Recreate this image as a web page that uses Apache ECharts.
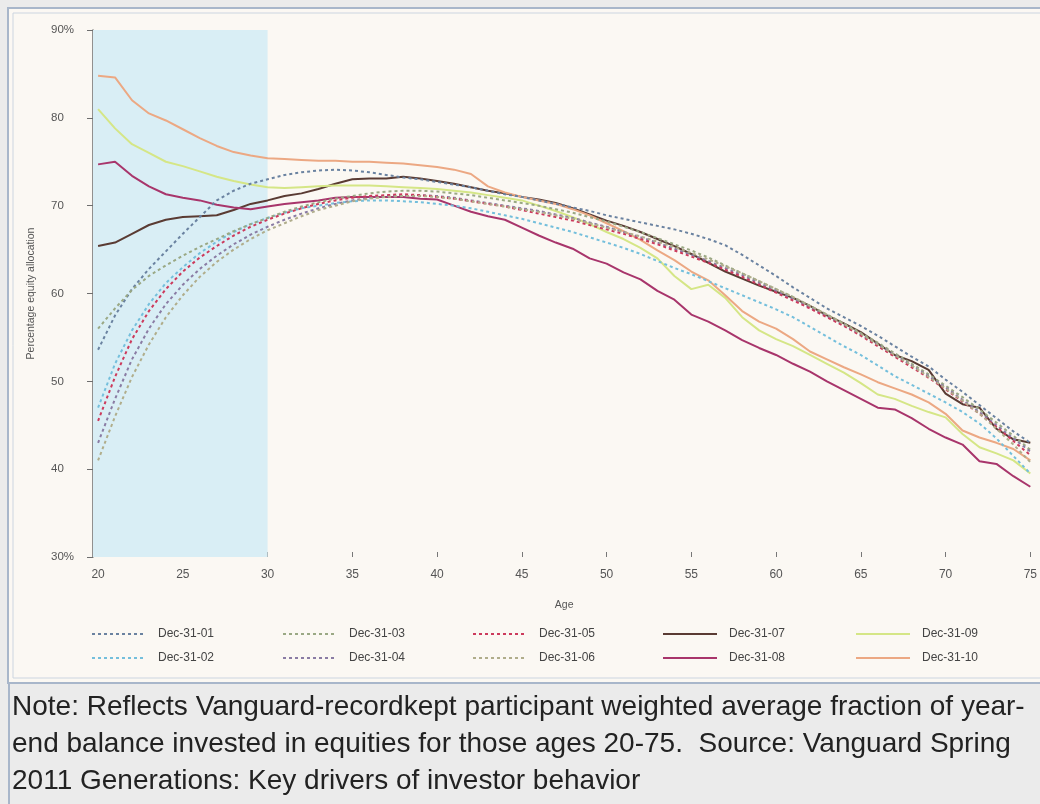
<!DOCTYPE html>
<html>
<head>
<meta charset="utf-8">
<script src="https://cdn.jsdelivr.net/npm/echarts@6/dist/echarts.min.js"></script>
<style>
html,body{margin:0;padding:0;background:#ebebeb;}
#chart{width:1040px;height:804px;}
</style>
</head>
<body>
<div id="chart"></div>
<script>
// ---- data ----
const ages = [20,21,22,23,24,25,26,27,28,29,30,31,32,33,34,35,36,37,38,39,40,41,42,43,44,45,46,47,48,49,50,51,52,53,54,55,56,57,58,59,60,61,62,63,64,65,66,67,68,69,70,71,72,73,74,75];
const seriesNames = ['Dec-31-01','Dec-31-02','Dec-31-03','Dec-31-04','Dec-31-05','Dec-31-06','Dec-31-07','Dec-31-08','Dec-31-09','Dec-31-10'];
const yTickLabels = {30:'30%',40:'40',50:'50',60:'60',70:'70',80:'80',90:'90%'};
const xTickLabels = [20,25,30,35,40,45,50,55,60,65,70,75];
const shadedAges = [19.7, 30];
const noteLines = [
  'Note: Reflects Vanguard-recordkept participant weighted average fraction of year-',
  'end balance invested in equities for those ages 20-75.  Source: Vanguard Spring',
  '2011 Generations: Key drivers of investor behavior'
];

const dec01 = [53.6,57.5,60.5,62.8,64.8,66.8,68.7,70.6,71.7,72.5,73.0,73.5,73.8,74.0,74.1,74.0,73.8,73.5,73.2,73.0,72.7,72.4,72.1,71.7,71.3,71.0,70.6,70.2,69.8,69.4,68.9,68.5,68.1,67.7,67.3,66.8,66.2,65.5,64.4,63.2,62.0,60.7,59.5,58.3,57.3,56.3,55.2,54.0,52.8,51.7,50.2,48.8,47.3,45.8,44.3,43.0];
const dec02 = [47.0,52.0,55.8,58.8,61.2,63.0,64.6,65.9,67.0,67.9,68.6,69.2,69.7,70.0,70.3,70.5,70.6,70.6,70.5,70.4,70.2,70.0,69.7,69.3,68.9,68.5,68.0,67.5,67.0,66.4,65.8,65.2,64.5,63.7,62.9,62.2,61.4,60.6,59.8,59.0,58.2,57.3,56.2,55.1,54.0,53.0,51.8,50.6,49.6,48.6,47.6,46.5,45.2,43.5,41.5,39.5];
const dec03 = [56.0,58.3,60.4,62.0,63.2,64.3,65.3,66.2,67.1,67.9,68.6,69.3,69.9,70.4,70.8,71.1,71.4,71.6,71.7,71.7,71.6,71.4,71.2,70.9,70.6,70.3,70.0,69.6,69.2,68.7,68.2,67.6,67.0,66.3,65.6,64.9,64.1,63.2,62.3,61.4,60.5,59.6,58.6,57.6,56.6,55.5,54.4,53.2,52.0,50.8,49.5,48.2,46.8,45.3,43.8,42.2];
const dec04 = [43.0,48.0,52.5,56.0,58.8,61.0,62.8,64.3,65.6,66.7,67.6,68.4,69.1,69.7,70.2,70.6,70.9,71.1,71.2,71.2,71.1,70.9,70.6,70.3,70.0,69.7,69.4,69.0,68.6,68.1,67.6,67.0,66.4,65.8,65.1,64.4,63.7,62.9,62.1,61.2,60.3,59.4,58.4,57.4,56.4,55.3,54.2,53.0,51.8,50.6,49.3,47.9,46.5,45.0,43.5,42.0];
const dec05 = [45.5,50.5,54.8,58.0,60.5,62.5,64.1,65.4,66.6,67.6,68.4,69.1,69.7,70.2,70.6,70.9,71.1,71.2,71.3,71.2,71.0,70.8,70.5,70.2,69.9,69.5,69.1,68.7,68.3,67.8,67.3,66.8,66.2,65.6,64.9,64.2,63.5,62.7,61.9,61.0,60.1,59.2,58.3,57.3,56.3,55.2,54.0,52.8,51.6,50.4,49.1,47.7,46.3,44.8,43.2,41.6];
const dec06 = [41.0,46.0,50.5,54.2,57.3,59.8,61.9,63.6,65.0,66.2,67.2,68.0,68.8,69.5,70.0,70.5,70.8,71.0,71.1,71.1,71.0,70.8,70.5,70.2,69.9,69.6,69.3,68.9,68.5,68.0,67.5,67.0,66.5,65.9,65.3,64.6,63.9,63.1,62.3,61.4,60.5,59.6,58.6,57.6,56.5,55.4,54.2,53.0,51.8,50.5,49.2,47.8,46.3,44.6,42.8,40.8];
const dec07 = [65.4,65.8,66.8,67.8,68.4,68.7,68.8,68.9,69.5,70.2,70.6,71.1,71.4,71.9,72.5,73.0,73.1,73.1,73.3,73.1,72.8,72.5,72.1,71.7,71.4,71.0,70.7,70.3,69.7,69.0,68.3,67.7,67.0,66.2,65.4,64.5,63.5,62.5,61.7,60.9,60.2,59.5,58.6,57.5,56.6,55.6,54.3,53.0,52.3,51.3,48.6,47.4,47.0,44.6,43.4,43.0];
const dec08 = [74.7,75.0,73.4,72.2,71.3,70.9,70.6,70.1,69.8,69.6,69.9,70.2,70.4,70.6,70.9,71.0,71.0,71.0,71.0,70.8,70.7,70.0,69.3,68.8,68.4,67.5,66.6,65.8,65.1,64.0,63.4,62.4,61.6,60.3,59.3,57.6,56.8,55.8,54.7,53.8,53.0,52.0,51.1,50.0,49.0,48.0,47.0,46.8,45.8,44.6,43.6,42.8,40.9,40.6,39.2,38.0];
const dec09 = [81.0,78.8,77.0,76.0,75.0,74.5,73.9,73.3,72.8,72.4,72.1,72.0,72.1,72.2,72.3,72.3,72.3,72.2,72.1,72.0,71.9,71.7,71.5,71.2,70.9,70.6,70.0,69.4,68.7,67.9,67.0,66.2,65.2,64.0,62.0,60.5,61.0,59.5,57.3,55.8,54.8,54.0,53.0,52.0,51.0,49.8,48.5,48.0,47.2,46.5,45.9,44.0,42.5,41.8,41.0,39.5];
const dec10 = [84.8,84.6,82.0,80.5,79.7,78.7,77.7,76.8,76.1,75.7,75.4,75.3,75.2,75.1,75.1,75.0,75.0,74.9,74.8,74.6,74.4,74.1,73.6,72.2,71.5,71.0,70.6,70.2,69.6,68.9,68.0,67.1,66.1,64.9,63.8,62.5,61.5,59.8,58.0,56.8,56.0,54.8,53.4,52.5,51.6,50.8,49.9,49.2,48.5,47.6,46.3,44.4,43.6,43.0,42.3,41.0];

const seriesValues = [dec01,dec02,dec03,dec04,dec05,dec06,dec07,dec08,dec09,dec10];

// ---- styles ----
const colors = ['#6a82a0','#74bfdc','#9aa884','#8a7ca4','#cc3a5c','#b0ad8b','#5a3b33','#a8356b','#d5e686','#eca883'];
const dashed = [true,true,true,true,true,true,false,false,false,false];
const FONT = 'Liberation Sans, Arial, sans-serif';

const series = seriesNames.map((name, i) => ({
  name: name,
  type: 'line',
  data: ages.map((a, j) => [a, seriesValues[i][j]]),
  symbol: 'none',
  smooth: false,
  z: 3 + (dashed[i] ? 1 : 0),
  lineStyle: {
    color: colors[i],
    width: dashed[i] ? 2 : 2,
    type: dashed[i] ? [3, 3] : 'solid'
  },
  itemStyle: { color: colors[i] }
}));

series[0].markArea = {
  silent: true,
  itemStyle: { color: '#d9eef5' },
  data: [[{ xAxis: shadedAges[0] }, { xAxis: shadedAges[1] }]]
};

const legendCols = [[0,1],[2,3],[4,5],[6,7],[8,9]];
const legendX = [86, 277, 467, 657, 850];
const legends = legendCols.map((pair, c) => ({
  orient: 'vertical',
  left: legendX[c],
  top: 623,
  itemGap: 12,
  itemWidth: 54,
  itemHeight: 12,
  itemStyle: { opacity: 0, borderWidth: 0 },
  data: pair.map(k => seriesNames[k]),
  textStyle: { fontFamily: FONT, fontSize: 12, color: '#444', padding: [0,0,0,7] },
  selectedMode: false
}));

const chart = echarts.init(document.getElementById('chart'), null, { renderer: 'canvas' });
chart.setOption({
  animation: false,
  backgroundColor: '#ebebeb',
  graphic: [
    { type: 'rect', z: -10, shape: { x: 8, y: 8, width: 1040, height: 675 },
      style: { fill: '#fbf8f3', stroke: '#a8b6ca', lineWidth: 2 } },
    { type: 'rect', z: -10, shape: { x: 13, y: 13, width: 1040, height: 665 },
      style: { fill: 'none', stroke: '#ccd5e0', lineWidth: 1 } },
    { type: 'rect', z: -10, shape: { x: 8, y: 683, width: 2, height: 121 },
      style: { fill: '#a8b6ca' } },
    ...noteLines.map((t, i) => ({
      type: 'text', left: 12, top: 693 + i * 37,
      style: { text: t, fontFamily: FONT, fontSize: 28, fill: '#222' }
    }))
  ],
  legend: legends,
  grid: { left: 93, top: 30, right: -1, bottom: 247, containLabel: false },
  xAxis: {
    type: 'value', min: 19.7, max: 75.3,
    name: 'Age', nameLocation: 'middle', nameGap: 43,
    nameTextStyle: { fontFamily: FONT, fontSize: 10.5, color: '#555' },
    axisLine: { show: false },
    axisTick: { show: true, inside: true, length: 5, lineStyle: { color: '#777' },
      customValues: xTickLabels },
    axisLabel: { customValues: xTickLabels, margin: 12, fontFamily: FONT, fontSize: 12, color: '#555' },
    splitLine: { show: false }
  },
  yAxis: {
    type: 'value', min: 30, max: 90, interval: 10,
    name: 'Percentage equity allocation', nameLocation: 'middle', nameGap: 56,
    nameTextStyle: { fontFamily: FONT, fontSize: 10.5, color: '#555' },
    axisLine: { show: true, lineStyle: { color: '#6e6e6e', width: 1.5 } },
    axisTick: { show: true, length: 6, lineStyle: { color: '#6e6e6e' } },
    axisLabel: { align: 'left', margin: 42, fontFamily: FONT, fontSize: 11.5, color: '#555',
      formatter: v => yTickLabels[v] !== undefined ? yTickLabels[v] : '' },
    splitLine: { show: false }
  },
  series: series
});
</script>
</body>
</html>
